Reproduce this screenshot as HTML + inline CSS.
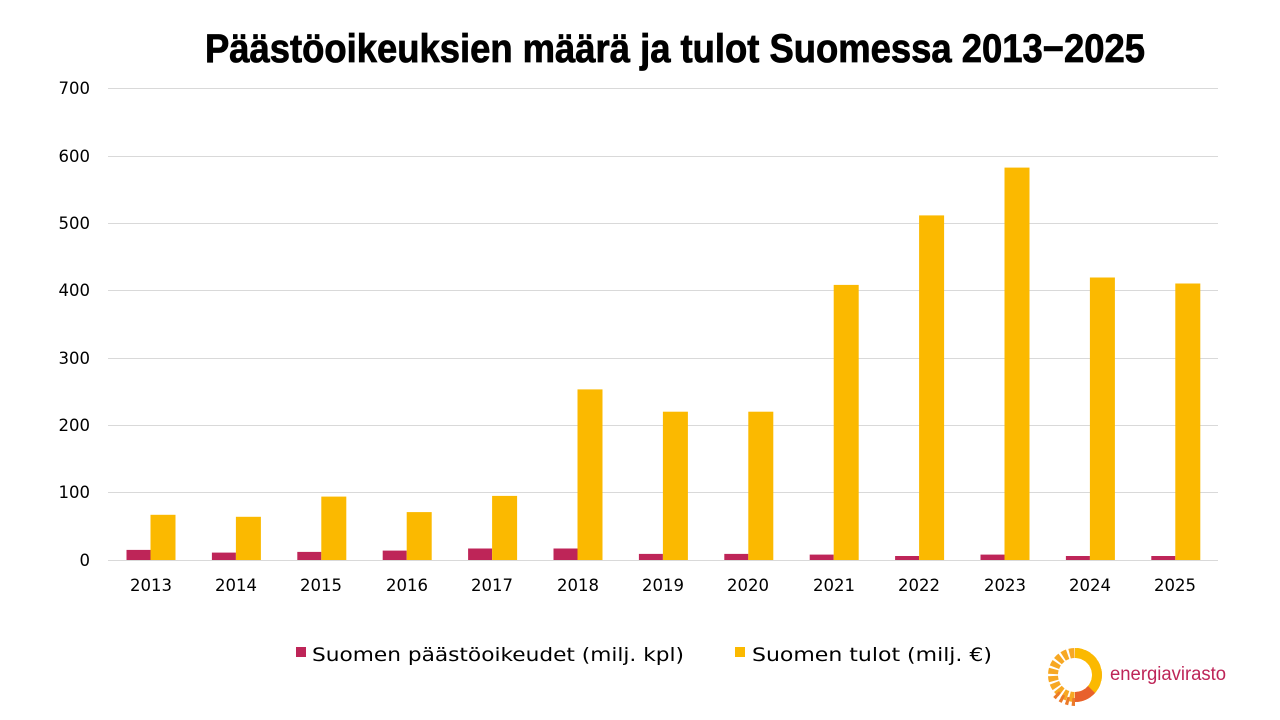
<!DOCTYPE html>
<html><head><meta charset="utf-8"><style>
html,body{margin:0;padding:0;background:#fff;width:1280px;height:720px;overflow:hidden}
text{font-family:"DejaVu Sans","Liberation Sans",sans-serif}
</style></head><body>
<svg width="1280" height="720" viewBox="0 0 1280 720" xmlns="http://www.w3.org/2000/svg">
<text x="675" y="62" text-anchor="middle" font-weight="bold" font-size="40" textLength="940" lengthAdjust="spacingAndGlyphs" fill="#000" stroke="#000" stroke-width="0.8" style="font-family:'Liberation Sans Narrow','Liberation Sans',sans-serif">Päästöoikeuksien määrä ja tulot Suomessa 2013−2025</text>
<g stroke="#d9d9d9" stroke-width="1">
<line x1="108" x2="1218" y1="88.5" y2="88.5"/><line x1="108" x2="1218" y1="156.5" y2="156.5"/>
<line x1="108" x2="1218" y1="223.5" y2="223.5"/><line x1="108" x2="1218" y1="290.5" y2="290.5"/>
<line x1="108" x2="1218" y1="358.5" y2="358.5"/><line x1="108" x2="1218" y1="425.5" y2="425.5"/>
<line x1="108" x2="1218" y1="492.5" y2="492.5"/><line x1="108" x2="1218" y1="560.5" y2="560.5"/>
</g>
<g font-size="16.5" fill="#000" text-anchor="end">
<text x="90" y="94">700</text><text x="90" y="162">600</text><text x="90" y="229">500</text>
<text x="90" y="296">400</text><text x="90" y="364">300</text><text x="90" y="431">200</text>
<text x="90" y="498">100</text><text x="90" y="566">0</text>
</g>
<g fill="#be2558">
<rect x="126.5" y="549.9" width="24" height="10.1"/><rect x="211.9" y="552.6" width="24" height="7.4"/>
<rect x="297.3" y="551.9" width="24" height="8.1"/><rect x="382.7" y="550.6" width="24" height="9.4"/>
<rect x="468.1" y="548.5" width="24" height="11.5"/><rect x="553.5" y="548.5" width="24" height="11.5"/>
<rect x="638.9" y="553.9" width="24" height="6.1"/><rect x="724.3" y="553.9" width="24" height="6.1"/>
<rect x="809.7" y="554.6" width="24" height="5.4"/><rect x="895.1" y="556" width="24" height="4"/>
<rect x="980.5" y="554.6" width="24" height="5.4"/><rect x="1065.9" y="556" width="24" height="4"/>
<rect x="1151.3" y="556" width="24" height="4"/>
</g>
<g fill="#fbb900">
<rect x="150.5" y="514.8" width="25" height="45.2"/><rect x="235.9" y="516.8" width="25" height="43.2"/>
<rect x="321.3" y="496.6" width="25" height="63.4"/><rect x="406.7" y="512.1" width="25" height="47.9"/>
<rect x="492.1" y="495.9" width="25" height="64.1"/><rect x="577.5" y="389.4" width="25" height="170.6"/>
<rect x="662.9" y="411.7" width="25" height="148.3"/><rect x="748.3" y="411.7" width="25" height="148.3"/>
<rect x="833.7" y="284.9" width="25" height="275.1"/><rect x="919.1" y="215.4" width="25" height="344.6"/>
<rect x="1004.5" y="167.6" width="25" height="392.4"/><rect x="1089.9" y="277.5" width="25" height="282.5"/>
<rect x="1175.3" y="283.5" width="25" height="276.5"/>
</g>
<g font-size="16.5" fill="#000" text-anchor="middle">
<text x="151" y="591">2013</text><text x="236" y="591">2014</text><text x="321" y="591">2015</text>
<text x="407" y="591">2016</text><text x="492" y="591">2017</text><text x="578" y="591">2018</text>
<text x="663" y="591">2019</text><text x="748" y="591">2020</text><text x="834" y="591">2021</text>
<text x="919" y="591">2022</text><text x="1005" y="591">2023</text><text x="1090" y="591">2024</text>
<text x="1175" y="591">2025</text>
</g>
<rect x="296" y="647" width="10" height="10" fill="#be2558"/>
<text x="312" y="661" font-size="19" fill="#000" textLength="372" lengthAdjust="spacingAndGlyphs">Suomen päästöoikeudet (milj. kpl)</text>
<rect x="735" y="647" width="10" height="10" fill="#fbb900"/>
<text x="752" y="661" font-size="19" fill="#000" textLength="240" lengthAdjust="spacingAndGlyphs">Suomen tulot (milj. €)</text>
<g transform="translate(1075,675)">
<circle r="22" fill="none" stroke="#f7a823" stroke-width="10" stroke-dasharray="5 2"/>
<path d="M0,-27 A27,27 0 0 1 20,18 L13,11 A17,17 0 0 0 0,-17Z" fill="#fbb900"/>
<path d="M20,18 A27,27 0 0 1 0,27 L0,17 A17,17 0 0 0 13,11Z" fill="#e8612c"/>
<path d="M0,27 A27,27 0 0 1 -20,18" stroke="#ec7a2a" stroke-width="8" fill="none" stroke-dasharray="3 3"/>
<circle r="15" fill="#fff"/>
</g>
<text x="1110" y="680" font-size="19" fill="#be2558" style="font-family:'Liberation Sans',sans-serif" textLength="116" lengthAdjust="spacingAndGlyphs">energiavirasto</text>
</svg>
</body></html>
